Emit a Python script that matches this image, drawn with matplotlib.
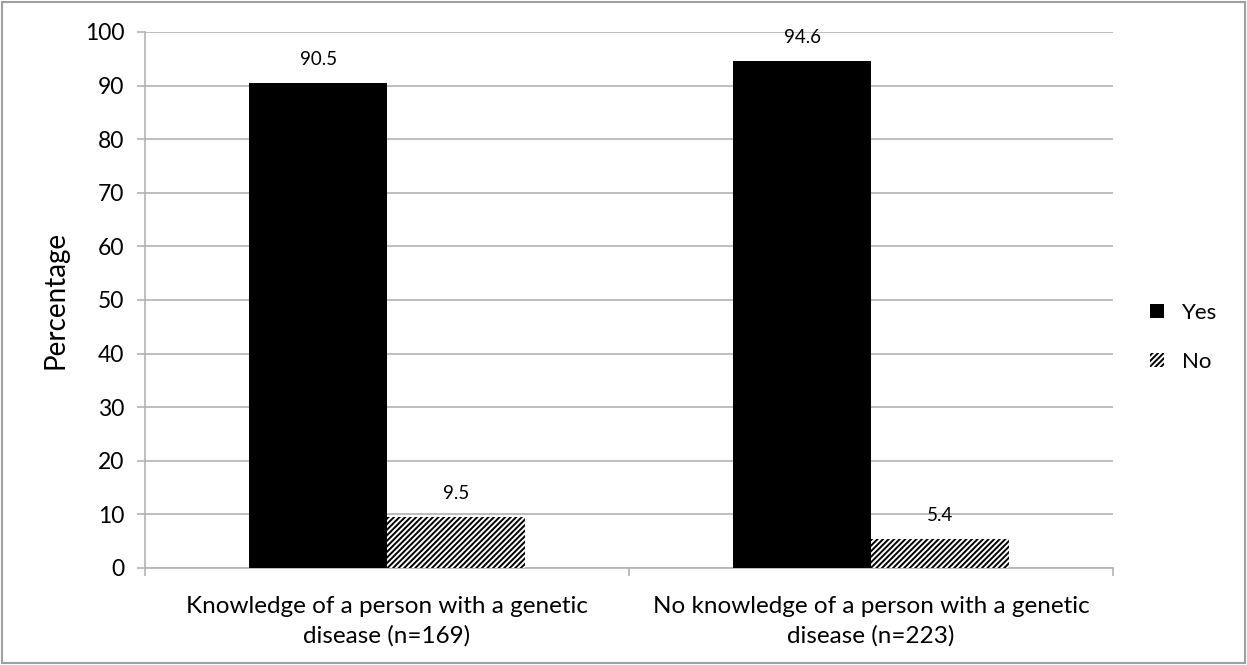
import matplotlib
matplotlib.use("Agg")
import matplotlib.pyplot as plt
from matplotlib.patches import Rectangle
import numpy as np

categories = ["Knowledge of a person with a genetic\ndisease (n=169)",
              "No knowledge of a person with a genetic\ndisease (n=223)"]
yes_vals = [90.5, 94.6]
no_vals = [9.5, 5.4]
series_names = ["Yes", "No"]
yticks = [0, 10, 20, 30, 40, 50, 60, 70, 80, 90, 100]

plt.rcParams['font.family'] = ['Lato', 'DejaVu Sans']
plt.rcParams['hatch.linewidth'] = 1.4

fig = plt.figure(figsize=(12.47, 6.65), dpi=100)
ax = fig.add_axes([0.1163, 0.1459, 0.7763, 0.806])

x = np.arange(len(categories))
w = 0.285
grid_c = "#b3b3b3"

b1 = ax.bar(x - w/2, yes_vals, w, color="black", label=series_names[0], zorder=3)
b2 = ax.bar(x + w/2, no_vals, w, color="white", edgecolor="black", hatch="//////",
            linewidth=0, label=series_names[1], zorder=3)

for bars, vals in ((b1, yes_vals), (b2, no_vals)):
    for r, v in zip(bars, vals):
        ax.annotate(f"{v:.1f}", (r.get_x() + r.get_width()/2, v),
                    xytext=(0, 10.5), textcoords="offset points",
                    ha="center", va="bottom", fontsize=13.5)

ax.set_xlim(-0.5, len(categories) - 0.5)
ax.set_ylim(0, 100)
ax.set_yticks(yticks)
ax.tick_params(axis="y", labelsize=16.5, length=6, color=grid_c, width=1.2, pad=9)
ax.set_xticks(x)
ax.set_xticklabels(categories, fontsize=17.5, linespacing=1.5)
ax.tick_params(axis="x", which="major", length=0, pad=20)
ax.set_xticks(np.arange(-0.5, len(categories), 1.0), minor=True)
ax.tick_params(axis="x", which="minor", length=6, color=grid_c, width=1.2)
ax.yaxis.grid(True, color=grid_c, linewidth=1.2, zorder=0)
ax.set_axisbelow(True)
for s in ("top", "right"):
    ax.spines[s].set_visible(False)
for s in ("left", "bottom"):
    ax.spines[s].set_color(grid_c)
    ax.spines[s].set_linewidth(1.2)

ax.set_ylabel("Percentage", fontsize=20, labelpad=12)

ax.legend(loc="center left", bbox_to_anchor=(1.018, 0.43), frameon=False,
          fontsize=16, handlelength=0.6, handleheight=0.6, handletextpad=0.8,
          labelspacing=1.3)

fig.patches.append(Rectangle((0.002, 0.003), 0.996, 0.994, transform=fig.transFigure,
                             fill=False, edgecolor="#a0a0a0", linewidth=1.5))

fig.savefig("out.png", dpi=100)
